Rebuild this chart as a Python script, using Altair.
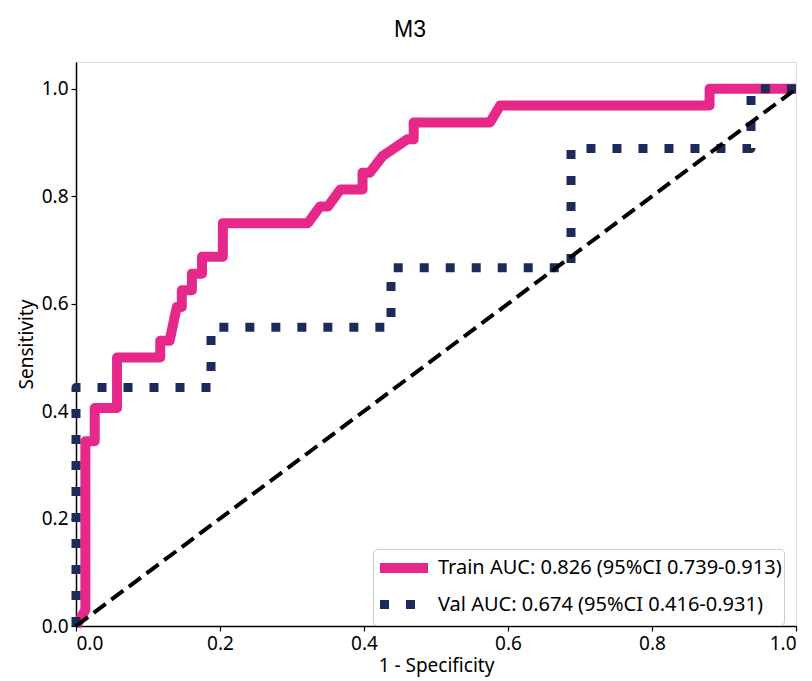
import altair as alt
import pandas as pd

# Train ROC
train_fpr = [0, 0.013, 0.013, 0.026, 0.026, 0.057, 0.057, 0.117, 0.117, 0.13, 0.14, 0.147, 0.147,
             0.161, 0.161, 0.175, 0.175, 0.204, 0.204, 0.322, 0.339, 0.35, 0.367, 0.398, 0.398,
             0.408, 0.426, 0.46, 0.469, 0.469, 0.575, 0.589, 0.88, 0.88, 1.0]
train_tpr = [0, 0.03, 0.344, 0.344, 0.406, 0.406, 0.5, 0.5, 0.531, 0.531, 0.594, 0.594, 0.625,
             0.625, 0.656, 0.656, 0.6875, 0.6875, 0.75, 0.75, 0.781, 0.781, 0.8125, 0.8125, 0.844,
             0.844, 0.875, 0.906, 0.906, 0.9375, 0.9375, 0.969, 0.969, 1.0, 1.0]
# Validation ROC
val_fpr = [0, 0, 0.1875, 0.1875, 0.4375, 0.4375, 0.6875, 0.6875, 0.9375, 0.9375, 1.0]
val_tpr = [0, 0.444, 0.444, 0.556, 0.556, 0.667, 0.667, 0.889, 0.889, 1.0, 1.0]

series = ["Train AUC: 0.826 (95%CI 0.739-0.913)", "Val AUC: 0.674 (95%CI 0.416-0.931)"]
colors = ["#E6288A", "#1C2B5B"]
ref_x = [0, 1]
ref_y = [0, 1]
ticks = [0.0, 0.2, 0.4, 0.6, 0.8, 1.0]

rows = []
for i, (x, y) in enumerate(zip(train_fpr, train_tpr)):
    rows.append({"fpr": x, "tpr": y, "series": series[0], "o": i})
for i, (x, y) in enumerate(zip(val_fpr, val_tpr)):
    rows.append({"fpr": x, "tpr": y, "series": series[1], "o": i})
df = pd.DataFrame(rows)
ref = pd.DataFrame({"fpr": ref_x, "tpr": ref_y})

font = "Noto Sans"
xs = alt.Scale(domain=[0, 1.0], nice=False, zero=False)
ys = alt.Scale(domain=[0, 1.05], nice=False, zero=False)

common = dict(values=ticks, format=".1f", grid=False, labelFontSize=19, titleFontSize=19,
              titleFontWeight="normal", labelFont=font, titleFont=font, tickSize=5,
              labelPadding=3, domainColor="black", tickColor="black", labelColor="black",
              titleColor="black", domainWidth=1.5, tickWidth=1.2)
xaxis = alt.Axis(title="1 - Specificity", titlePadding=3, **common)
yaxis = alt.Axis(title="Sensitivity", titlePadding=5, **common)

diag = alt.Chart(ref).mark_line(color="black", strokeWidth=4, strokeDash=[15, 7]).encode(
    x=alt.X("fpr:Q", scale=xs, axis=xaxis),
    y=alt.Y("tpr:Q", scale=ys, axis=yaxis),
)

curves = alt.Chart(df).mark_line(strokeJoin="round").encode(
    x=alt.X("fpr:Q", scale=xs, axis=xaxis),
    y=alt.Y("tpr:Q", scale=ys, axis=yaxis),
    order="o:Q",
    color=alt.Color("series:N", scale=alt.Scale(domain=series, range=colors),
                    legend=alt.Legend(title=None, orient="none", legendX=297, legendY=487,
                                      symbolType="M-1,0H3", symbolSize=576, symbolStrokeWidth=9,
                                      labelFontSize=20, labelFont=font, labelColor="black",
                                      rowPadding=-7, padding=2, strokeColor="#cccccc",
                                      cornerRadius=4, fillColor="white", labelOffset=29,
                                      labelLimit=500)),
    strokeDash=alt.StrokeDash("series:N", scale=alt.Scale(domain=series, range=[[1, 0], [9, 17]]),
                              legend=None),
    strokeWidth=alt.StrokeWidth("series:N", scale=alt.Scale(domain=series, range=[10, 9]),
                                legend=None),
)

chart = alt.layer(curves, diag).properties(
    width=720, height=564,
    title=alt.TitleParams("M3", fontSize=23, font="Liberation Sans", fontWeight="normal",
                          anchor="middle", dx=-26, offset=20, color="black"),
    autosize=alt.AutoSizeParams(type="none"),
    padding={"left": 76, "top": 62, "right": 16, "bottom": 55},
).configure_view(stroke="black", strokeWidth=1.5).configure(background="white")

chart.save("out.html", embed_options={"renderer": "svg", "actions": False})
